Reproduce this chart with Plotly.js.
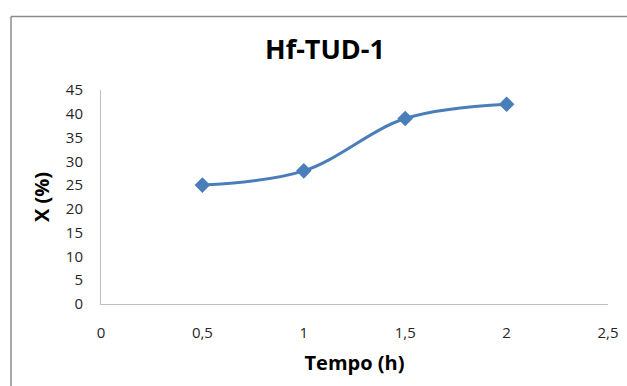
<!DOCTYPE html>
<html>
<head>
<meta charset="utf-8">
<script src="https://cdn.plot.ly/plotly-3.0.1.min.js"></script>
<style>html,body{margin:0;padding:0;background:#fff;}#chart{width:627px;height:386px;}</style>
</head>
<body>
<div id="chart"></div>
<script>
const tempo = [0.5, 1, 1.5, 2];
const conversion = [25, 28, 39, 42];
const xTicks = [0, 0.5, 1, 1.5, 2, 2.5];
const yTicks = [0, 5, 10, 15, 20, 25, 30, 35, 40, 45];
const titleText = 'Hf-TUD-1';
const xTitle = 'Tempo (h)';
const yTitle = 'X (%)';

const FONT = 'Open Sans, Noto Sans, sans-serif';
const trace = {
  x: tempo, y: conversion, type: 'scatter', mode: 'lines+markers',
  line: {color: '#4A7EBB', width: 3, shape: 'spline', smoothing: 1},
  marker: {symbol: 'diamond', size: 12, color: '#4A7EBB'},
  hoverinfo: 'none'
};
const PL = 101, PR = 608, PT = 90, PB = 304;
const W = 627, H = 386;
const layout = {
  width: W, height: H,
  margin: {l: PL, r: W - PR, t: PT, b: H - PB},
  paper_bgcolor: '#fff', plot_bgcolor: '#fff',
  separators: ',.',
  showlegend: false,
  font: {family: FONT, color: '#000'},
  title: {text: '<b>' + titleText + '</b>', font: {size: 27, family: FONT, color: '#000'},
          x: 325 / W, xref: 'container', xanchor: 'center', y: 1 - 50 / H, yref: 'container', yanchor: 'middle'},
  xaxis: {
    range: [0, 2.5], tickmode: 'array', tickvals: xTicks,
    showgrid: false, zeroline: false, showline: true, linecolor: '#BFBFBF', linewidth: 1,
    ticks: '', ticklabelstandoff: 15, tickfont: {size: 15, family: FONT, color: '#262626'},
    title: {text: '<b>' + xTitle + '</b>', font: {size: 20, family: FONT, color: '#000'}, standoff: 14}
  },
  yaxis: {
    range: [0, 45], tickmode: 'array', tickvals: yTicks,
    showgrid: false, zeroline: false, showline: true, linecolor: '#BFBFBF', linewidth: 1,
    ticks: '', ticklabelstandoff: 14, tickfont: {size: 15, family: FONT, color: '#262626'},
    title: {text: '<b>' + yTitle + '</b>', font: {size: 20, family: FONT, color: '#000'}, standoff: 10}
  },
  shapes: [
    {type: 'line', xref: 'paper', yref: 'paper', x0: (11 - PL) / (PR - PL), x1: (11 - PL) / (PR - PL),
     y0: -0.5, y1: (PB - 16.5) / (PB - PT), line: {color: '#8C8C8C', width: 1.5}},
    {type: 'line', xref: 'paper', yref: 'paper', x0: (11 - PL) / (PR - PL), x1: 1.2,
     y0: (PB - 16.5) / (PB - PT), y1: (PB - 16.5) / (PB - PT), line: {color: '#8C8C8C', width: 1.5}}
  ]
};
Plotly.newPlot('chart', [trace], layout, {staticPlot: true, displayModeBar: false});
</script>
</body>
</html>
